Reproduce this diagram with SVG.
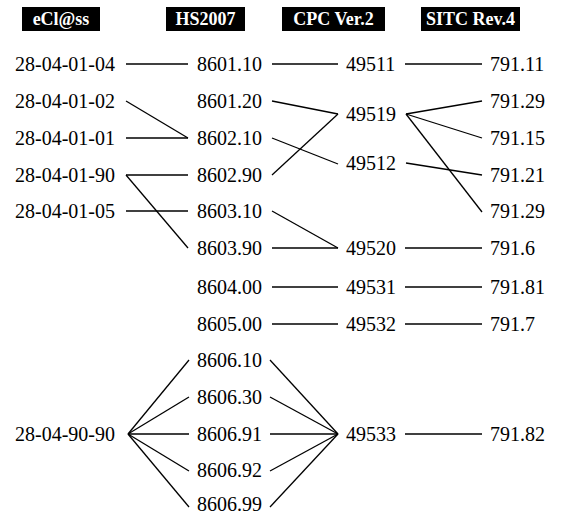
<svg xmlns="http://www.w3.org/2000/svg" width="576" height="515" viewBox="0 0 576 515">
<style>
.h{fill:#000}
.ht{fill:#fff;font-family:"Liberation Serif",serif;font-weight:bold;font-size:18px;text-anchor:middle}
.t{fill:#000;font-family:"Liberation Serif",serif;font-size:20px}
#connectors line{stroke:#000;stroke-width:1.3}
</style>
<rect width="576" height="515" fill="#fff"/>
<g id="headers">
<g id="h-eclass"><rect class="h" x="22" y="7" width="78" height="24"/><text class="ht" x="61" y="25">eCl@ss</text></g>
<g id="h-hs"><rect class="h" x="166" y="7" width="79" height="24"/><text class="ht" x="205.5" y="25">HS2007</text></g>
<g id="h-cpc"><rect class="h" x="282" y="7" width="103" height="24"/><text class="ht" x="333.5" y="25">CPC Ver.2</text></g>
<g id="h-sitc"><rect class="h" x="421" y="7" width="99" height="24"/><text class="ht" x="470.5" y="25">SITC Rev.4</text></g>
</g>
<g id="connectors">
<line x1="126" y1="64" x2="188" y2="64"/>
<line x1="272" y1="64" x2="338" y2="64"/>
<line x1="405" y1="64" x2="482" y2="64"/>
<line x1="126" y1="101" x2="188" y2="138"/>
<line x1="126" y1="138" x2="188" y2="138"/>
<line x1="126" y1="175" x2="188" y2="175"/>
<line x1="126" y1="175" x2="188" y2="248"/>
<line x1="126" y1="211" x2="188" y2="211"/>
<line x1="272" y1="101" x2="338" y2="114"/>
<line x1="272" y1="175" x2="338" y2="114"/>
<line x1="272" y1="138" x2="338" y2="164"/>
<line x1="272" y1="211" x2="338" y2="248"/>
<line x1="272" y1="248" x2="338" y2="248"/>
<line x1="406" y1="114" x2="482" y2="101"/>
<line x1="406" y1="114" x2="482" y2="138"/>
<line x1="406" y1="114" x2="482" y2="212"/>
<line x1="406" y1="163" x2="482" y2="175"/>
<line x1="405" y1="248" x2="482" y2="248"/>
<line x1="272" y1="287" x2="338" y2="287"/>
<line x1="405" y1="287" x2="482" y2="287"/>
<line x1="272" y1="324" x2="338" y2="324"/>
<line x1="405" y1="324" x2="482" y2="324"/>
<line x1="128" y1="434" x2="189" y2="360"/>
<line x1="128" y1="434" x2="189" y2="397"/>
<line x1="128" y1="434" x2="189" y2="434"/>
<line x1="128" y1="434" x2="189" y2="471"/>
<line x1="128" y1="434" x2="189" y2="507"/>
<line x1="270" y1="360" x2="338" y2="434"/>
<line x1="270" y1="397" x2="338" y2="434"/>
<line x1="270" y1="434" x2="338" y2="434"/>
<line x1="270" y1="471" x2="338" y2="434"/>
<line x1="270" y1="507" x2="338" y2="434"/>
<line x1="405" y1="434" x2="482" y2="434"/>
</g>
<g id="n-e1"><text class="t" x="15" y="71">28-04-01-04</text></g>
<g id="n-e2"><text class="t" x="15" y="108">28-04-01-02</text></g>
<g id="n-e3"><text class="t" x="15" y="145">28-04-01-01</text></g>
<g id="n-e4"><text class="t" x="15" y="182">28-04-01-90</text></g>
<g id="n-e5"><text class="t" x="15" y="218">28-04-01-05</text></g>
<g id="n-e6"><text class="t" x="15" y="441">28-04-90-90</text></g>
<g id="n-h1"><text class="t" x="197" y="71">8601.10</text></g>
<g id="n-h2"><text class="t" x="197" y="108">8601.20</text></g>
<g id="n-h3"><text class="t" x="197" y="145">8602.10</text></g>
<g id="n-h4"><text class="t" x="197" y="182">8602.90</text></g>
<g id="n-h5"><text class="t" x="197" y="218">8603.10</text></g>
<g id="n-h6"><text class="t" x="197" y="255">8603.90</text></g>
<g id="n-h7"><text class="t" x="197" y="294">8604.00</text></g>
<g id="n-h8"><text class="t" x="197" y="331">8605.00</text></g>
<g id="n-h9"><text class="t" x="197" y="367">8606.10</text></g>
<g id="n-h10"><text class="t" x="197" y="404">8606.30</text></g>
<g id="n-h11"><text class="t" x="197" y="441">8606.91</text></g>
<g id="n-h12"><text class="t" x="197" y="477">8606.92</text></g>
<g id="n-h13"><text class="t" x="197" y="511">8606.99</text></g>
<g id="n-c1"><text class="t" x="346" y="71">49511</text></g>
<g id="n-c2"><text class="t" x="346" y="121">49519</text></g>
<g id="n-c3"><text class="t" x="346" y="170">49512</text></g>
<g id="n-c4"><text class="t" x="346" y="255">49520</text></g>
<g id="n-c5"><text class="t" x="346" y="294">49531</text></g>
<g id="n-c6"><text class="t" x="346" y="331">49532</text></g>
<g id="n-c7"><text class="t" x="346" y="441">49533</text></g>
<g id="n-s1"><text class="t" x="490" y="71">791.11</text></g>
<g id="n-s2"><text class="t" x="490" y="108">791.29</text></g>
<g id="n-s3"><text class="t" x="490" y="145">791.15</text></g>
<g id="n-s4"><text class="t" x="490" y="182">791.21</text></g>
<g id="n-s5"><text class="t" x="490" y="218">791.29</text></g>
<g id="n-s6"><text class="t" x="490" y="255">791.6</text></g>
<g id="n-s7"><text class="t" x="490" y="294">791.81</text></g>
<g id="n-s8"><text class="t" x="490" y="331">791.7</text></g>
<g id="n-s9"><text class="t" x="490" y="441">791.82</text></g>
</svg>
